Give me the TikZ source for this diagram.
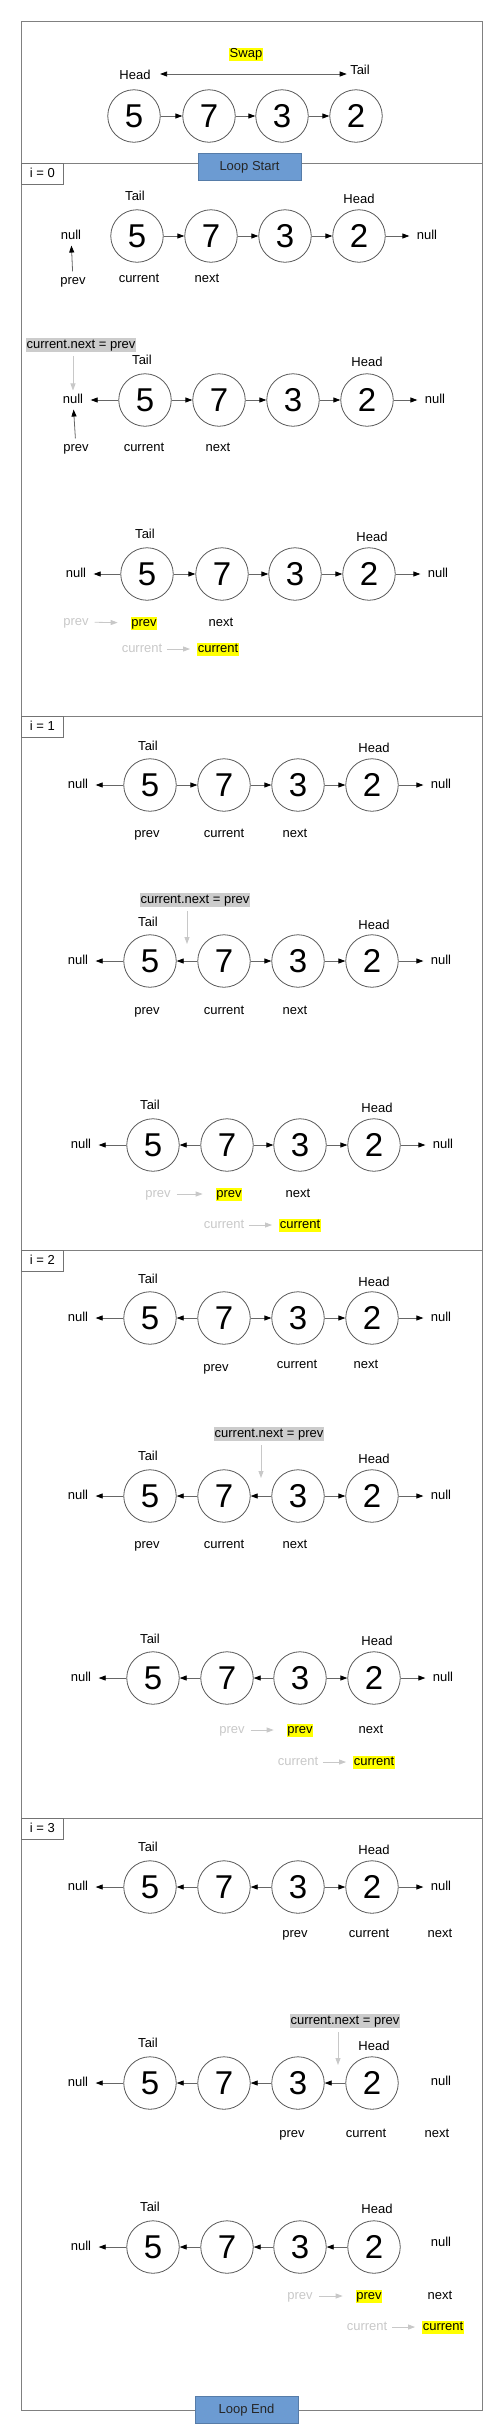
\documentclass[tikz,border=0pt]{standalone}
\usepackage{fontspec}
\setmainfont{Liberation Sans}
\usetikzlibrary{arrows.meta}
\definecolor{loopblue}{RGB}{108,155,210}
\definecolor{hlyellow}{RGB}{255,255,0}
\definecolor{codegray}{RGB}{204,204,204}
\definecolor{fadegray}{RGB}{200,200,200}
\tikzset{
  >={Triangle[length=7pt,width=5pt,color=black]},
  lnode/.style={circle,draw=black!65,line width=0.8pt,minimum size=52.5pt,inner sep=0pt,font=\fontsize{33}{33}\selectfont},
  lbl/.style={font=\fontsize{13}{15}\selectfont,text height=9.5pt,text depth=2.5pt},
  nx/.style={draw=black!60,line width=0.8pt,->},
  nul/.style={nx,shorten >=4pt},
  fx/.style={draw=fadegray,line width=0.8pt,-{Triangle[length=7pt,width=5pt]}},
  fxp/.style={fx,shorten <=2.5pt,shorten >=13pt},
  fxc/.style={fx,shorten <=1pt,shorten >=7pt},
  hl/.style={lbl,fill=hlyellow,inner sep=0.5pt},
  code/.style={lbl,fill=codegray,inner sep=1pt},
  fade/.style={lbl,text=fadegray},
  frame/.style={draw=black!50,line width=1pt},
  ibox/.style={lbl,draw=black!55,line width=0.8pt,fill=white,minimum width=42pt,minimum height=21pt,anchor=north west},
  loopbox/.style={lbl,draw=loopblue!80!black,fill=loopblue,text=black!85,minimum width=103pt,minimum height=27pt}
}
\begin{document}
\begin{tikzpicture}[x=1pt,y=-1pt]
\useasboundingbox (0,0) rectangle (502,2431);
\draw[frame] (21,21) rectangle (482,2410);
\draw[frame] (21,163) -- (482,163) (21,716) -- (482,716) (21,1250) -- (482,1250) (21,1818) -- (482,1818);
\node[ibox] (i0) at (21,163) {i = 0};
\node[ibox] (i1) at (21,716) {i = 1};
\node[ibox] (i2) at (21,1250) {i = 2};
\node[ibox] (i3) at (21,1818) {i = 3};
\node[loopbox] (ls) at (249.5,166.5) {Loop Start};
\node[loopbox] (le) at (246.5,2409.5) {Loop End};

\node[hl] (tS) at (246,54) {Swap};
\node[lbl] (tH) at (135,76) {Head};
\node[lbl] (tT) at (360,71) {Tail};
\draw[nx,<->,shorten <=6pt] ([yshift=2pt]tH.east) -- ([yshift=2pt]tH.east -| tT.west);
\foreach \v/\x [count=\k] in {5/134,7/209,3/282,2/356} \node[lnode] (t\k) at (\x,116) {\v};
\foreach \i/\j in {1/2,2/3,3/4} \draw[nx] (t\i) -- (t\j);

\foreach \v/\x [count=\k] in {5/137,7/211,3/285,2/359} \node[lnode] (a\k) at (\x,236) {\v};
\node[lbl] (aT) at (135,197) {Tail};
\node[lbl] (aH) at (359,200) {Head};
\node[lbl] (aL) at (71,236) {null};
\node[lbl] (aR) at (427,236) {null};
\node[lbl] (aP) at (73,281) {prev};
\node[lbl] (aC) at (139,279) {current};
\node[lbl] (aN) at (207,279) {next};
\foreach \i/\j in {1/2,2/3,3/4} \draw[nx] (a\i) -- (a\j);
\draw[nul] (a4) -- (aR);
\draw[nx] (aP) -- (aL);

\node[code] (bX) at (81,345) {current.next = prev};
\foreach \v/\x [count=\k] in {5/145,7/219,3/293,2/367} \node[lnode] (b\k) at (\x,400) {\v};
\node[lbl] (bT) at (142,361) {Tail};
\node[lbl] (bH) at (367,363) {Head};
\node[lbl] (bL) at (73,400) {null};
\node[lbl] (bR) at (435,400) {null};
\node[lbl] (bP) at (76,448) {prev};
\node[lbl] (bC) at (144,448) {current};
\node[lbl] (bN) at (218,448) {next};
\foreach \i/\j in {1/2,2/3,3/4} \draw[nx] (b\i) -- (b\j);
\draw[nul] (b1) -- (bL);
\draw[nul] (b4) -- (bR);
\draw[nx] (bP) -- (bL);
\draw[fx,shorten <=4pt] (bX.south -| bL) -- (bL);

\foreach \v/\x [count=\k] in {5/147,7/222,3/295,2/369} \node[lnode] (c\k) at (\x,574) {\v};
\node[lbl] (cT) at (145,535) {Tail};
\node[lbl] (cH) at (372,538) {Head};
\node[lbl] (cL) at (76,574) {null};
\node[lbl] (cR) at (438,574) {null};
\node[fade] (cPg) at (76,622) {prev};
\node[hl] (cP) at (144,623) {prev};
\node[lbl] (cN) at (221,623) {next};
\node[fade] (cCg) at (142,649) {current};
\node[hl] (cC) at (218,649) {current};
\foreach \i/\j in {1/2,2/3,3/4} \draw[nx] (c\i) -- (c\j);
\draw[nul] (c1) -- (cL);
\draw[nul] (c4) -- (cR);
\draw[fxp] (cPg) -- (cP);
\draw[fxc] (cCg) -- (cC);

\foreach \v/\x [count=\k] in {5/150,7/224,3/298,2/372} \node[lnode] (d\k) at (\x,785) {\v};
\node[lbl] (dT) at (148,747) {Tail};
\node[lbl] (dH) at (374,749) {Head};
\node[lbl] (dL) at (78,785) {null};
\node[lbl] (dR) at (441,785) {null};
\node[lbl] (dP) at (147,834) {prev};
\node[lbl] (dC) at (224,834) {current};
\node[lbl] (dN) at (295,834) {next};
\foreach \i/\j in {1/2,2/3,3/4} \draw[nx] (d\i) -- (d\j);
\draw[nul] (d1) -- (dL);
\draw[nul] (d4) -- (dR);

\node[code] (eX) at (195,900) {current.next = prev};
\coordinate (eA) at (187,944);
\foreach \v/\x [count=\k] in {5/150,7/224,3/298,2/372} \node[lnode] (e\k) at (\x,961) {\v};
\node[lbl] (eT) at (148,923) {Tail};
\node[lbl] (eH) at (374,926) {Head};
\node[lbl] (eL) at (78,961) {null};
\node[lbl] (eR) at (441,961) {null};
\node[lbl] (eP) at (147,1011) {prev};
\node[lbl] (eC) at (224,1011) {current};
\node[lbl] (eN) at (295,1011) {next};
\foreach \i/\j in {2/1,2/3,3/4} \draw[nx] (e\i) -- (e\j);
\draw[nul] (e1) -- (eL);
\draw[nul] (e4) -- (eR);
\draw[fx,shorten <=4pt] (eX.south -| eA) -- (eA);

\foreach \v/\x [count=\k] in {5/153,7/227,3/300,2/374} \node[lnode] (f\k) at (\x,1145) {\v};
\node[lbl] (fT) at (150,1106) {Tail};
\node[lbl] (fH) at (377,1109) {Head};
\node[lbl] (fL) at (81,1145) {null};
\node[lbl] (fR) at (443,1145) {null};
\node[fade] (fPg) at (158,1194) {prev};
\node[hl] (fP) at (229,1194) {prev};
\node[lbl] (fN) at (298,1194) {next};
\node[fade] (fCg) at (224,1225) {current};
\node[hl] (fC) at (300,1225) {current};
\foreach \i/\j in {2/1,2/3,3/4} \draw[nx] (f\i) -- (f\j);
\draw[nul] (f1) -- (fL);
\draw[nul] (f4) -- (fR);
\draw[fxp] (fPg) -- (fP);
\draw[fxc] (fCg) -- (fC);

\foreach \v/\x [count=\k] in {5/150,7/224,3/298,2/372} \node[lnode] (g\k) at (\x,1318) {\v};
\node[lbl] (gT) at (148,1280) {Tail};
\node[lbl] (gH) at (374,1283) {Head};
\node[lbl] (gL) at (78,1318) {null};
\node[lbl] (gR) at (441,1318) {null};
\node[lbl] (gP) at (216,1368) {prev};
\node[lbl] (gC) at (297,1365) {current};
\node[lbl] (gN) at (366,1365) {next};
\foreach \i/\j in {2/1,2/3,3/4} \draw[nx] (g\i) -- (g\j);
\draw[nul] (g1) -- (gL);
\draw[nul] (g4) -- (gR);

\node[code] (kX) at (269,1434) {current.next = prev};
\coordinate (kA) at (261,1478);
\foreach \v/\x [count=\k] in {5/150,7/224,3/298,2/372} \node[lnode] (k\k) at (\x,1496) {\v};
\node[lbl] (kT) at (148,1457) {Tail};
\node[lbl] (kH) at (374,1460) {Head};
\node[lbl] (kL) at (78,1496) {null};
\node[lbl] (kR) at (441,1496) {null};
\node[lbl] (kP) at (147,1545) {prev};
\node[lbl] (kC) at (224,1545) {current};
\node[lbl] (kN) at (295,1545) {next};
\foreach \i/\j in {2/1,3/2,3/4} \draw[nx] (k\i) -- (k\j);
\draw[nul] (k1) -- (kL);
\draw[nul] (k4) -- (kR);
\draw[fx,shorten <=4pt] (kX.south -| kA) -- (kA);

\foreach \v/\x [count=\k] in {5/153,7/227,3/300,2/374} \node[lnode] (l\k) at (\x,1678) {\v};
\node[lbl] (lT) at (150,1640) {Tail};
\node[lbl] (lH) at (377,1642) {Head};
\node[lbl] (lL) at (81,1678) {null};
\node[lbl] (lR) at (443,1678) {null};
\node[fade] (lPg) at (232,1730) {prev};
\node[hl] (lP) at (300,1730) {prev};
\node[lbl] (lN) at (371,1730) {next};
\node[fade] (lCg) at (298,1762) {current};
\node[hl] (lC) at (374,1762) {current};
\foreach \i/\j in {2/1,3/2,3/4} \draw[nx] (l\i) -- (l\j);
\draw[nul] (l1) -- (lL);
\draw[nul] (l4) -- (lR);
\draw[fxp] (lPg) -- (lP);
\draw[fxc] (lCg) -- (lC);

\foreach \v/\x [count=\k] in {5/150,7/224,3/298,2/372} \node[lnode] (m\k) at (\x,1887) {\v};
\node[lbl] (mT) at (148,1848) {Tail};
\node[lbl] (mH) at (374,1851) {Head};
\node[lbl] (mL) at (78,1887) {null};
\node[lbl] (mR) at (441,1887) {null};
\node[lbl] (mP) at (295,1934) {prev};
\node[lbl] (mC) at (369,1934) {current};
\node[lbl] (mN) at (440,1934) {next};
\foreach \i/\j in {2/1,3/2,3/4} \draw[nx] (m\i) -- (m\j);
\draw[nul] (m1) -- (mL);
\draw[nul] (m4) -- (mR);

\node[code] (nX) at (345,2021) {current.next = prev};
\coordinate (nA) at (338,2065);
\foreach \v/\x [count=\k] in {5/150,7/224,3/298,2/372} \node[lnode] (n\k) at (\x,2083) {\v};
\node[lbl] (nT) at (148,2044) {Tail};
\node[lbl] (nH) at (374,2047) {Head};
\node[lbl] (nL) at (78,2083) {null};
\node[lbl] (nR) at (441,2082) {null};
\node[lbl] (nP) at (292,2134) {prev};
\node[lbl] (nC) at (366,2134) {current};
\node[lbl] (nN) at (437,2134) {next};
\foreach \i/\j in {2/1,3/2,4/3} \draw[nx] (n\i) -- (n\j);
\draw[nul] (n1) -- (nL);
\draw[fx,shorten <=4pt] (nX.south -| nA) -- (nA);

\foreach \v/\x [count=\k] in {5/153,7/227,3/300,2/374} \node[lnode] (o\k) at (\x,2247) {\v};
\node[lbl] (oT) at (150,2208) {Tail};
\node[lbl] (oH) at (377,2210) {Head};
\node[lbl] (oL) at (81,2247) {null};
\node[lbl] (oR) at (441,2243) {null};
\node[fade] (oPg) at (300,2296) {prev};
\node[hl] (oP) at (369,2296) {prev};
\node[lbl] (oN) at (440,2296) {next};
\node[fade] (oCg) at (367,2327) {current};
\node[hl] (oC) at (443,2327) {current};
\foreach \i/\j in {2/1,3/2,4/3} \draw[nx] (o\i) -- (o\j);
\draw[nul] (o1) -- (oL);
\draw[fxp] (oPg) -- (oP);
\draw[fxc] (oCg) -- (oC);
\end{tikzpicture}
\end{document}
